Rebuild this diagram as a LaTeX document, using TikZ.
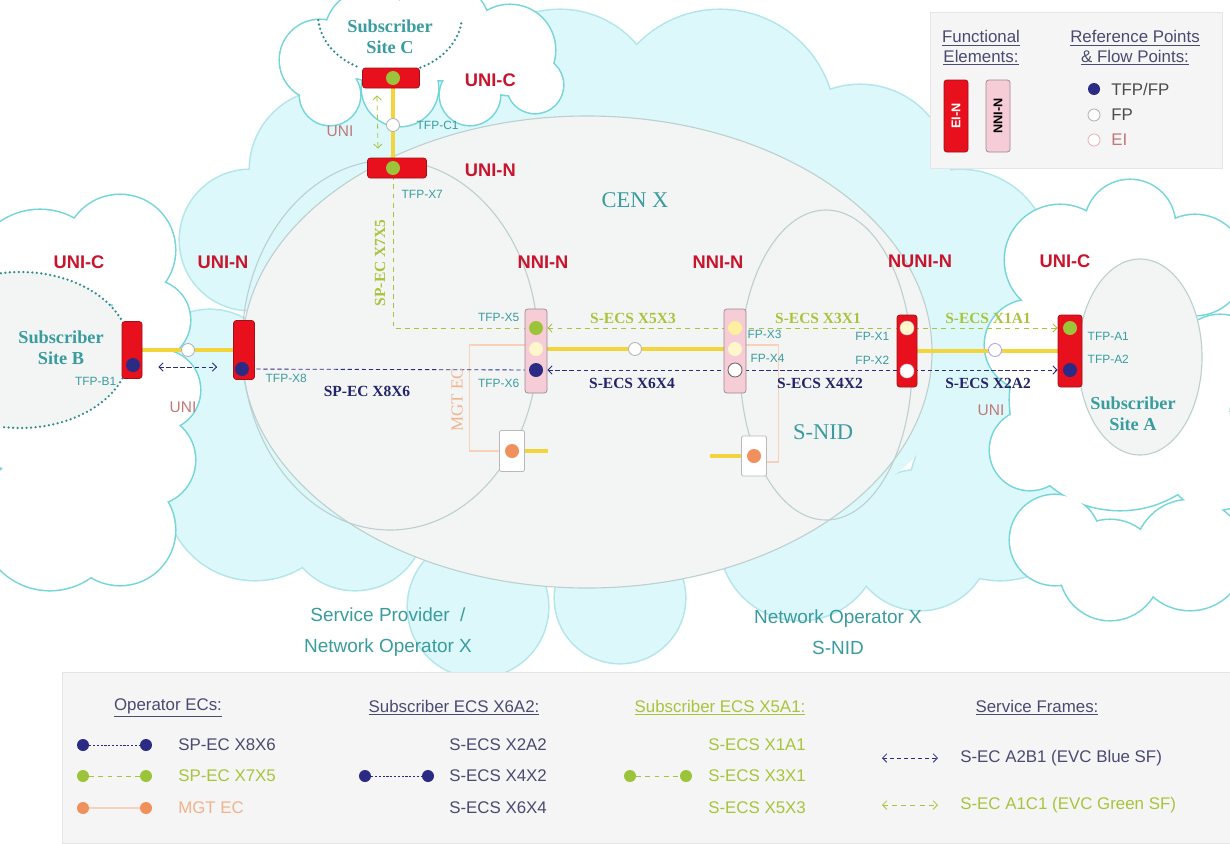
\documentclass[tikz,border=0pt]{standalone}
\usepackage{fontspec}
\setmainfont{Liberation Sans}
\newfontfamily\timesfont{Liberation Serif}
\usetikzlibrary{arrows.meta,positioning,calc}

\pgfdeclarelayer{wolke}
\pgfdeclarelayer{linien}
\pgfsetlayers{wolke,linien,main}

% ein Pixel der Vorlage
\def\pix{0.025cm}

\begin{document}
\begin{tikzpicture}[x=\pix, y=-\pix,
    eiv/.style={draw=eirand, fill=eirot, rounded corners=2pt, line width=0.5pt,
        inner sep=0pt, minimum width=21*\pix, minimum height=58*\pix},
    eih/.style={eiv, minimum width=57*\pix, minimum height=20*\pix},
    nnib/.style={draw=nnirand, fill=nnirosa, rounded corners=2pt, line width=0.5pt,
        inner sep=0pt, minimum width=22*\pix, minimum height=84*\pix},
    mgtb/.style={draw=gray!55, fill=white, rounded corners=1pt, line width=0.5pt,
        inner sep=0pt, minimum width=25*\pix, minimum height=41*\pix},
    pkt/.style={circle, inner sep=0pt, minimum size=14*\pix},
    fpkt/.style={pkt, fill=white, draw=gray!80!black, line width=0.6pt},
    eipkt/.style={pkt, fill=white, draw=gray!60, line width=0.6pt, minimum size=13*\pix},
    gelblinie/.style={draw=gelb, line width=2.8pt},
    blaustr/.style={draw=blau, line width=0.6pt, dash pattern=on 3pt off 2pt},
    blaupkt/.style={draw=blau, line width=0.6pt, dash pattern=on 1.5pt off 1.2pt},
    gruenstr/.style={draw=gruentext, line width=0.6pt, dash pattern=on 3.5pt off 3pt},
    mgtlinie/.style={draw=lachs!60, line width=0.8pt},
    punktlinie/.style={draw=punkt, line width=1.8pt, line cap=round, dash pattern=on 0pt off 3.2pt},
    pfeil/.style={<->, >={Straight Barb[length=3pt,width=6pt]}},
    elabel/.style={font=\bfseries\fontsize{13}{13}\selectfont, text=rottext},
    tfp/.style={font=\fontsize{8.5}{9}\selectfont, text=tuerkis, inner sep=1pt},
    ecs/.style={font=\timesfont\bfseries\fontsize{11}{11}\selectfont, inner sep=0pt},
    site/.style={font=\timesfont\bfseries\fontsize{13}{15}\selectfont, text=tuerkis, align=center},
    unil/.style={font=\fontsize{11}{11}\selectfont, text=unitext},
    legtxt/.style={font=\fontsize{12}{12}\selectfont, anchor=west, inner sep=0pt},
    leghead/.style={font=\fontsize{12}{14}\selectfont, text=legtext, align=center}
]

    % Farben
    \definecolor{wolkeFill}{HTML}{DDF8FA}
    \definecolor{wolkeRand}{HTML}{B2E6EA}
    \definecolor{siteRand}{HTML}{74D6D8}
    \definecolor{ellFill}{HTML}{F3F5F5}
    \definecolor{ellRand}{HTML}{BDD0D0}
    \definecolor{punkt}{HTML}{2E8C8E}
    \definecolor{eirot}{HTML}{E8101C}
    \definecolor{eirand}{HTML}{A01018}
    \definecolor{nnirosa}{HTML}{F6CCD6}
    \definecolor{nnirand}{HTML}{9A8890}
    \definecolor{blau}{HTML}{2B2A85}
    \definecolor{gruen}{HTML}{9CC43A}
    \definecolor{dotorange}{HTML}{F0905C}
    \definecolor{creme}{HTML}{FFF6CC}
    \definecolor{hellgelb}{HTML}{FFF0A0}
    \definecolor{gelb}{HTML}{F2D43C}
    \definecolor{tuerkis}{HTML}{3A9C9E}
    \definecolor{rottext}{HTML}{C8142C}
    \definecolor{gruentext}{HTML}{A8C43C}
    \definecolor{lachs}{HTML}{F2B28C}
    \definecolor{navy}{HTML}{24246A}
    \definecolor{unitext}{HTML}{C07878}
    \definecolor{legfill}{HTML}{F5F5F5}
    \definecolor{legtext}{HTML}{4A4A72}
    \definecolor{lila}{HTML}{B0A0E0}
    \definecolor{eirosa}{HTML}{E8B4BC}

    \useasboundingbox (0,0) rectangle (1230,843);

    % Wolke aus Kreisen: #1 Kreise, #2 Fuellung, #3 Rand
    \def\wolke#1#2#3{%
        \foreach \cx/\cy/\r in {#1} \draw[#3, line width=2.2pt] (\cx,\cy) circle[radius=\r];
        \foreach \cx/\cy/\r in {#1} \fill[#2] (\cx,\cy) circle[radius=\r];
    }

    % Hintergrund, Wolken, Netze
    \begin{pgfonlayer}{wolke}
        \fill[white] (0,0) rectangle (1230,843);
        \wolke{250/240/70, 330/170/80, 430/140/70, 560/110/100, 720/125/115,
            860/175/90, 960/260/90, 1030/380/100, 1000/490/90, 920/540/70,
            800/540/80, 620/598/65, 478/607/70, 355/520/70, 255/490/90,
            210/380/70}{wolkeFill}{wolkeRand}
        \fill[wolkeFill] (600,360) ellipse[x radius=360, y radius=200];
        % Kunden
        \wolke{40/280/70, 120/250/55, 150/320/40, 160/390/40, 150/460/45,
            120/530/55, 50/520/70, 20/400/70, 80/400/90}{white}{siteRand}
        \wolke{1060/260/55, 1130/225/45, 1195/265/50, 1220/360/45, 1215/460/50,
            1190/555/55, 1110/570/50, 1055/540/45, 1030/450/40, 1030/345/45,
            1120/400/110}{white}{siteRand}
        \wolke{320/60/40, 370/35/45, 440/30/50, 510/50/45, 535/85/28,
            470/95/30, 400/88/38, 330/95/30}{white}{siteRand}
        \fill[ellFill] (20,350) ellipse[x radius=110, y radius=78];
        \draw[punktlinie] (20,350) ++(260:110 and 78) arc[start angle=260, end angle=345, x radius=110, y radius=78];
        \draw[punktlinie] (20,350) ++(15:110 and 78) arc[start angle=15, end angle=100, x radius=110, y radius=78];
        \draw[punktlinie] (390,15) ++(175:72 and 58) arc[start angle=175, end angle=115, x radius=72, y radius=58];
        \draw[punktlinie] (390,15) ++(65:72 and 58) arc[start angle=65, end angle=5, x radius=72, y radius=58];
        \draw[draw=ellRand, fill=ellFill, line width=0.8pt] (1140,357) ellipse[x radius=62, y radius=98];
        % CEN X
        \draw[draw=ellRand, fill=ellFill, line width=0.8pt] (587,352) ellipse[x radius=345, y radius=236];
        \draw[draw=ellRand, line width=0.8pt] (390,345) ellipse[x radius=148, y radius=185];
        \draw[draw=ellRand, line width=0.8pt] (826,365) ellipse[x radius=86, y radius=155];
    \end{pgfonlayer}

    % Elemente
    \node[eih] (ucC) at (391,78) {};
    \node[eih, minimum width=59*\pix] (unC) at (397,168) {};
    \node[eiv, minimum width=20*\pix, minimum height=57*\pix] (ucB) at (132,350) {};
    \node[eiv, minimum height=59*\pix] (unB) at (244,350) {};
    \node[nnib] (nniL) at (536,351) {};
    \node[nnib] (nniR) at (735,351) {};
    \node[eiv, minimum width=20*\pix, minimum height=72*\pix] (nuni) at (907,351) {};
    \node[eiv, minimum width=24*\pix, minimum height=72*\pix] (ucA) at (1070,351) {};
    \node[mgtb] (mgtL) at (512,451) {};
    \node[mgtb, minimum height=40*\pix] (mgtR) at (754,456) {};
    \coordinate (mLe) at (548,451);
    \coordinate (mRe) at (710,456);

    % Punkte
    \node[pkt, fill=gruen] (dC1) at (393,78) {};
    \node[pkt, fill=gruen] (dX7) at (393,168) {};
    \node[pkt, fill=blau] (dB1) at (133,365) {};
    \node[pkt, fill=blau] (dX8) at (242,369) {};
    \node[pkt, fill=gruen] (dX5) at (536,328) {};
    \node[pkt, fill=creme] (dL2) at (536,349) {};
    \node[pkt, fill=blau] (dX6) at (536,370) {};
    \node[pkt, fill=hellgelb] (dX3) at (735,328) {};
    \node[pkt, fill=creme] (dR2) at (735,349) {};
    \node[fpkt] (dX4) at (735,370) {};
    \node[pkt, fill=creme, draw=gray!40] (dX1) at (907,328) {};
    \node[pkt, fill=white, draw=gray!40] (dX2) at (907,371) {};
    \node[pkt, fill=gruen] (dA1) at (1070,328) {};
    \node[pkt, fill=blau] (dA2) at (1070,370) {};
    \node[pkt, fill=dotorange] (dmL) at (mgtL) {};
    \node[pkt, fill=dotorange] (dmR) at (mgtR) {};
    \node[eipkt] (eiC) at (393,125) {};
    \node[eipkt] (eiB) at (188,350) {};
    \node[eipkt] (eiM) at (635,349) {};
    \node[eipkt, draw=lila] (eiA) at (995,350) {};

    % Verbindungen
    \begin{pgfonlayer}{linien}
        \draw[gelblinie] (dC1) -- (dX7);
        \draw[gelblinie] (ucB) -- (unB);
        \draw[gelblinie] (dL2) -- (dR2);
        \draw[gelblinie] (nuni) -- (ucA);
        \draw[gelblinie] (mgtL) -- (mLe);
        \draw[gelblinie] (mgtR) -- (mRe);
        \draw[mgtlinie] ($(nniL.west)+(0,-6)$) -| ($(mgtL.west)+(-30,0)$) -- (mgtL.west);
        \draw[mgtlinie] ($(nniR.east)+(0,-6)$) -| ($(mgtR.east)+(12,6)$) -- ($(mgtR.east)+(0,6)$);
        \draw[blaustr] (dX8) -- (dX6);
        \draw[blaustr, pfeil] (nniL.east |- dX6) -- (ucA.west |- dA2);
        \draw[gruenstr] (dX7) |- (dX5);
        \draw[gruenstr, pfeil] (nniL.east |- dX5) -- (ucA.west |- dA1);
        \draw[blaustr, pfeil] ($(ucB.east |- dB1)+(16,2)$) -- ($(unB.west |- dB1)+(-16,2)$);
        \draw[gruenstr, pfeil] ($(ucC.south)+(-14,7)$) -- ($(unC.north)+(-19,-9)$);
    \end{pgfonlayer}

    % Beschriftungen
    \node[elabel, anchor=west] (tUCc) at (460,80) {UNI-C};
    \node[elabel, anchor=west] (tUNc) at (460,170) {UNI-N};
    \node[elabel] (tUCb) at (79,262) {UNI-C};
    \node[elabel] (tUNb) at (223,262) {UNI-N};
    \node[elabel] (tNNIl) at (543,262) {NNI-N};
    \node[elabel] (tNNIr) at (718,262) {NNI-N};
    \node[elabel] (tNUNI) at (920,261) {NUNI-N};
    \node[elabel] (tUCa) at (1065,261) {UNI-C};

    \node[tfp, anchor=west] (tC1) at (415,125) {TFP-C1};
    \node[tfp, anchor=west] (tX7) at (400,194) {TFP-X7};
    \node[tfp, anchor=east] (tX5) at (521,317) {TFP-X5};
    \node[tfp, anchor=east] (tX6) at (521,383) {TFP-X6};
    \node[tfp, anchor=west] (tX8) at (264,378) {TFP-X8};
    \node[tfp, anchor=east] (tB1) at (118,381) {TFP-B1};
    \node[tfp, anchor=west] (tX3) at (746,334) {FP-X3};
    \node[tfp, anchor=west] (tX4) at (749,358) {FP-X4};
    \node[tfp, anchor=east] (tX1) at (891,336) {FP-X1};
    \node[tfp, anchor=east] (tX2) at (891,360) {FP-X2};
    \node[tfp, anchor=west] (tA1) at (1086,336) {TFP-A1};
    \node[tfp, anchor=west] (tA2) at (1086,359) {TFP-A2};

    \node[ecs, text=navy] (eX8X6) at (367,391) {SP-EC X8X6};
    \node[ecs, text=navy] (eX6X4) at (632,383) {S-ECS X6X4};
    \node[ecs, text=navy] (eX4X2) at (820,383) {S-ECS X4X2};
    \node[ecs, text=navy] (eX2A2) at (988,383) {S-ECS X2A2};
    \node[ecs, text=gruentext] (eX5X3) at (633,318) {S-ECS X5X3};
    \node[ecs, text=gruentext] (eX3X1) at (818,318) {S-ECS X3X1};
    \node[ecs, text=gruentext] (eX1A1) at (988,318) {S-ECS X1A1};
    \node[ecs, text=gruentext, rotate=90] (eX7X5) at (380,263) {SP-EC X7X5};
    \node[ecs, text=lachs, rotate=90, font=\timesfont\fontsize{12}{12}\selectfont] (tMGT) at (457,400) {MGT EC};

    \node[unil] (uC) at (340,131) {UNI};
    \node[unil] (uB) at (183,407) {UNI};
    \node[unil] (uA) at (991,410) {UNI};

    \node[site] (sC) at (390,37) {Subscriber\\Site C};
    \node[site] (sB) at (61,348) {Subscriber\\Site B};
    \node[site] (sA) at (1133,414) {Subscriber\\Site A};
    \node[font=\timesfont\fontsize{16}{16}\selectfont, text=tuerkis] (cen) at (635,200) {CEN X};
    \node[font=\timesfont\fontsize{16}{16}\selectfont, text=tuerkis] (snid) at (823,432) {S-NID};

    \node[font=\fontsize{13.5}{22}\selectfont, text=tuerkis, align=center] (spno) at (388,632) {Service Provider~~/\\Network Operator X};
    \node[font=\fontsize{13.5}{22}\selectfont, text=tuerkis, align=center] (nos) at (838,632) {Network Operator X\\S-NID};

    % Legende oben
    \draw[draw=gray!20, fill=legfill] (930,12) rectangle (1222,168);
    \node[leghead] (hFE) at (981,48) {\underline{Functional}\\\underline{Elements:}};
    \node[leghead] (hRP) at (1135,48) {\underline{Reference Points}\\\underline{\& Flow Points:}};
    \node[eiv, rotate=90, minimum width=72*\pix, minimum height=24*\pix, text=white,
        font=\bfseries\fontsize{9}{9}\selectfont] (lEI) at (956,116) {EI-N};
    \node[nnib, rotate=90, minimum width=72*\pix, minimum height=24*\pix,
        font=\bfseries\fontsize{9}{9}\selectfont] (lNNI) at (998,116) {NNI-N};
    \node[pkt, fill=blau, minimum size=12*\pix] (lTFP) at (1094,89) {};
    \node[fpkt, draw=gray!60, minimum size=12*\pix] (lFP) at (1094,115) {};
    \node[eipkt, draw=eirosa, minimum size=12*\pix] (lEIp) at (1094,140) {};
    \node[legtxt, text=gray!60!black] (tTFP) at (1111,89) {TFP/FP};
    \node[legtxt, text=gray!60!black] (tFP) at (1111,115) {FP};
    \node[legtxt, text=unitext] (tEI) at (1111,140) {EI};

    % Legende unten
    \draw[draw=gray!20, fill=legfill] (62,672) rectangle (1232,843);
    \node[leghead] (hOp) at (168,708) {\underline{Operator ECs:}};
    \node[leghead] (hSb) at (454,708) {\underline{Subscriber ECS X6A2:}};
    \node[leghead, text=gruentext] (hSg) at (720,708) {\underline{Subscriber ECS X5A1:}};
    \node[leghead] (hSF) at (1037,708) {\underline{Service Frames:}};

    \foreach \y/\fa/\st/\tf/\t [count=\i] in {745/blau/blaupkt/legtext/SP-EC X8X6,
            776/gruen/gruenstr/gruentext/SP-EC X7X5, 808/dotorange/mgtlinie/lachs/MGT EC} {
        \node[pkt, fill=\fa, minimum size=12*\pix] (oa\i) at (83,\y) {};
        \node[pkt, fill=\fa, minimum size=12*\pix] (ob\i) at (146,\y) {};
        \draw[\st] (oa\i) -- (ob\i);
        \node[legtxt, text=\tf] (ot\i) at (178,\y) {\t};
    }

    \node[pkt, fill=blau, minimum size=12*\pix] (sba) at (365,776) {};
    \node[pkt, fill=blau, minimum size=12*\pix] (sbb) at (428,776) {};
    \draw[blaupkt] (sba) -- (sbb);
    \foreach \y/\t [count=\i] in {745/S-ECS X2A2, 776/S-ECS X4X2, 808/S-ECS X6X4}
        \node[legtxt, text=legtext] (sbt\i) at (449,\y) {\t};

    \node[pkt, fill=gruen, minimum size=12*\pix] (sga) at (630,776) {};
    \node[pkt, fill=gruen, minimum size=12*\pix] (sgb) at (686,776) {};
    \draw[gruenstr] (sga) -- (sgb);
    \foreach \y/\t [count=\i] in {745/S-ECS X1A1, 776/S-ECS X3X1, 808/S-ECS X5X3}
        \node[legtxt, text=gruentext] (sgt\i) at (708,\y) {\t};

    \coordinate (fb1) at (882,758);
    \coordinate (fb2) at (938,758);
    \coordinate (fg1) at (882,805);
    \coordinate (fg2) at (938,805);
    \draw[blaustr, pfeil] (fb1) -- (fb2);
    \draw[gruenstr, pfeil] (fg1) -- (fg2);
    \node[legtxt, text=legtext] (tfb) at (960,758) {S-EC A2B1 (EVC Blue SF)};
    \node[legtxt, text=gruentext] (tfg) at (960,805) {S-EC A1C1 (EVC Green SF)};

\end{tikzpicture}
\end{document}
